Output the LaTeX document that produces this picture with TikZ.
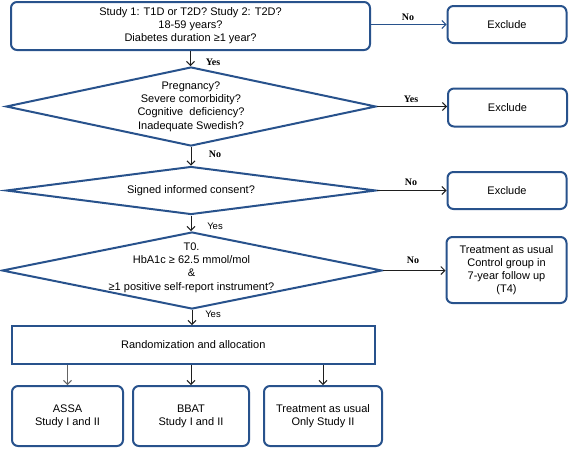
\documentclass[tikz,border=0pt]{standalone}
\usepackage{fontspec}
\setmainfont{Liberation Sans}
\newfontfamily\serlab{Liberation Serif}
\usetikzlibrary{shapes.geometric,arrows.meta}
\definecolor{bordblue}{RGB}{40,82,140}
\definecolor{arrdark}{RGB}{30,30,30}
\definecolor{arrgray}{RGB}{100,100,100}
\tikzset{
  rbox/.style={draw=bordblue, line width=2pt, rounded corners=6pt, inner sep=0pt, align=center, font=\fontsize{11}{13}\selectfont},
  sbox/.style={draw=bordblue, line width=2pt, inner sep=0pt, align=center, font=\fontsize{11}{13}\selectfont},
  dia/.style={draw=bordblue, line width=2pt, diamond, inner sep=0pt},
  dtext/.style={inner sep=0pt, align=center, font=\fontsize{11}{13.3}\selectfont},
  arr/.style={draw=arrdark, line width=1pt, -{Straight Barb[length=4pt,width=8pt]}},
  serl/.style={inner sep=0pt, font=\serlab\bfseries\fontsize{10}{11}\selectfont},
  sanl/.style={inner sep=0pt, font=\fontsize{9.5}{10}\selectfont}
}
\begin{document}
\begin{tikzpicture}[x=1pt,y=-1pt]
\useasboundingbox (0,0) rectangle (569,448);
% main column
\node[rbox, minimum width=359pt, minimum height=48pt] (b1) at (190.5,26)
  {Study 1: T1D or T2D? Study 2: T2D?\\18-59 years?\\Diabetes duration ≥1 year?};
\node[dia, minimum width=370pt, minimum height=79pt] (d1) at (191,106.5) {};
\node[dtext] (d1t) at (d1.center) {Pregnancy?\\Severe comorbidity?\\Cognitive~ deficiency?\\Inadequate Swedish?};
\node[dia, minimum width=370pt, minimum height=48pt] (d2) at (191,190.5) {};
\node[dtext] (d2t) at (d2.center) {Signed informed consent?};
\node[dia, minimum width=380pt, minimum height=77pt] (d3) at (192,270.5) {};
\node[dtext] (d3t) at (191.5,267.5) {T0.\\HbA1c ≥ 62.5 mmol/mol\\\&\\≥1 positive self-report instrument?};
\node[sbox, minimum width=363pt, minimum height=38pt] (r) at (193.3,345) {Randomization and allocation};
% right column
\node[rbox, minimum width=119pt, minimum height=37pt] (e1) at (507,24.5) {Exclude};
\node[rbox, minimum width=119pt, minimum height=38pt] (e2) at (507.5,107.5) {Exclude};
\node[rbox, minimum width=119pt, minimum height=37pt] (e3) at (507,190.5) {Exclude};
\node[rbox, minimum width=120pt, minimum height=66pt] (t4) at (506.5,270) {Treatment as usual\\Control group in\\7-year follow up\\(T4)};
% bottom row
\node[rbox, minimum width=111pt, minimum height=60pt] (a1) at (67.5,416) {ASSA\\Study I and II};
\node[rbox, minimum width=116pt, minimum height=60pt] (a2) at (191,416) {BBAT\\Study I and II};
\node[rbox, minimum width=118pt, minimum height=60pt] (a3) at (323,416) {Treatment as usual\\Only Study II};
% connectors
\draw[arr, draw=bordblue] (b1.east |- e1.west) -- (e1.west);
\draw[arr] (b1.south) -- (b1.south |- d1.north);
\draw[arr] (d1.east) -- (d1.east -| e2.west);
\draw[arr] (d1.south) -- (d1.south |- d2.north);
\draw[arr] (d2.east) -- (d2.east -| e3.west);
\draw[arr] (d2.south) -- (d2.south |- d3.north);
\draw[arr] (d3.east) -- (d3.east -| t4.west);
\draw[arr] (d3.south) -- (d3.south |- r.north);
\draw[arr, draw=arrgray] (r.south -| a1.north) -- (a1.north);
\draw[arr] (r.south -| a2.north) -- (a2.north);
\draw[arr] (r.south -| a3.north) -- (a3.north);
% labels
\node[serl] (l1) at (408,17) {No};
\node[serl] (l2) at (213,62) {Yes};
\node[serl] (l3) at (411,99) {Yes};
\node[serl] (l4) at (215,154) {No};
\node[serl] (l5) at (411,182) {No};
\node[sanl] (l6) at (215,226) {Yes};
\node[serl] (l7) at (413,260) {No};
\node[sanl] (l8) at (213,314) {Yes};
\end{tikzpicture}
\end{document}
